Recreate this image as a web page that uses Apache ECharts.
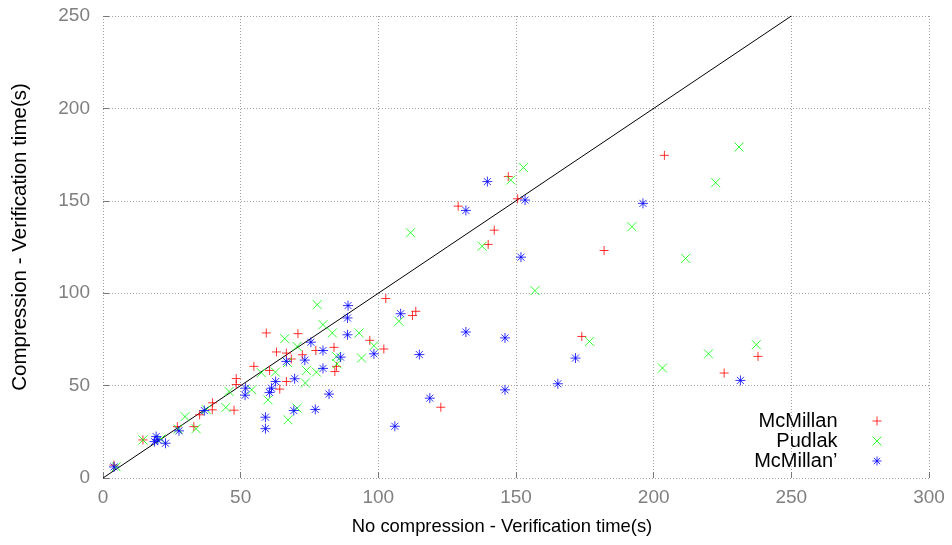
<!DOCTYPE html>
<html>
<head>
<meta charset="utf-8">
<script src="https://cdn.jsdelivr.net/npm/echarts@6/dist/echarts.min.js"></script>
<style>
  html, body { margin: 0; padding: 0; background: #fff; }
  #chart { width: 952px; height: 545px; }
</style>
</head>
<body>
<div id="chart"></div>
<script>
// data: [no compression, compression] seconds
var mcmillan = [
  [4, 7], [14.5, 20.6], [27, 27.8], [33, 27.8], [35.1, 34.2], [39.7, 36.9],
  [39.8, 40.7], [47.6, 36.7], [48.4, 53.8], [48.4, 50.6], [54.8, 60.4],
  [59.3, 78.5], [60.5, 58.2], [63, 68.2], [64.2, 48.1], [66.6, 67.6],
  [66.6, 52.2], [68.4, 64.4], [70.8, 78.1], [72.4, 66.7], [77.3, 69],
  [83.9, 70.7], [84.8, 60.4], [84.2, 57.6], [96.9, 74.5], [102, 69.8],
  [102.7, 97.1], [112.4, 87.9], [113.6, 90.2], [122.7, 38.3], [129, 147.1],
  [139.9, 126.4], [142.1, 134.1], [147.2, 163.1], [150.6, 151.1],
  [173.9, 76.6], [182, 123.1], [203.9, 174.6], [225.6, 56.8], [237.9, 65.8]
];
var pudlak = [
  [4.8, 6.1], [14.5, 20.6], [21, 21], [27.3, 26.5], [29.8, 33.2], [33.8, 26.7],
  [37.5, 37], [44.6, 38.2], [45.8, 46.8], [54, 47.7], [57.5, 57], [59.9, 42.3],
  [62.6, 57.3], [66, 75.4], [67, 62.5], [67.2, 31.5], [70.5, 71.2], [70.5, 37.8],
  [73.5, 51.4], [73.9, 58.2], [77.5, 57.3], [77.8, 93.8], [79.9, 83],
  [83.3, 78.5], [84.8, 65.8], [85, 61.8], [93, 78.5], [93.9, 64.9],
  [98.4, 71.6], [107.5, 84.8], [111.7, 132.7], [137.7, 125.4], [148.1, 161.2],
  [152.7, 168], [156.9, 101.4], [176.7, 73.9], [192.1, 136], [203.2, 59.5],
  [211.6, 118.8], [219.9, 67.2], [222.5, 159.8], [231, 179.1], [237.3, 72.1]
];
var mcmillan2 = [
  [4, 6], [19.3, 22.4], [18.7, 19.7], [19.9, 20.6], [22.7, 18.8], [27.6, 25.5],
  [36.8, 36.5], [51.8, 48.6], [51.6, 44.8], [59, 32.9], [59, 26.7],
  [61.2, 48.6], [60.5, 46.3], [62.7, 52.2], [66.6, 63.1], [69.6, 53.7],
  [69.3, 36.5], [73.3, 63.8], [75.5, 73.5], [77.1, 37.1], [79.9, 69],
  [79.9, 59.3], [82.1, 45.4], [86.3, 65.4], [88.8, 77.5], [88.8, 86.6],
  [89, 93.3], [98.4, 67.2], [106, 28], [108.1, 88.9], [114.9, 66.8],
  [118.7, 43.2], [131.8, 79], [131.8, 144.8], [139.6, 160.4], [146, 75.8],
  [146, 47.7], [151.8, 119.5], [153.3, 150.4], [165.2, 51], [171.6, 64.9],
  [196.1, 148.6], [231.5, 52.8]
];
// y = x reference line
var diagonal = [[0, 0], [250, 250]];
var seriesNames = ['McMillan', 'Pudlak', 'McMillan\u2019'];

var FONT = '"Liberation Sans", Arial, sans-serif';
var plusPath = 'path://M0,5L10,5M5,0L5,10';
var crossPath = 'path://M0,0L10,10M10,0L0,10';
var starPath = 'path://M0,5L10,5M5,0L5,10M1.5,1.5L8.5,8.5M8.5,1.5L1.5,8.5';

var myChart = echarts.init(document.getElementById('chart'), null, { renderer: 'canvas' });

function axisCommon() {
    return {
        type: 'value',
        axisLine: { show: false },
        axisTick: {
            show: true,
            inside: true,
            length: 6,
            lineStyle: { color: '#777' }
        },
        axisLabel: {
            color: '#808080',
            fontSize: 19,
            fontFamily: FONT
        },
        splitLine: {
            show: true,
            lineStyle: { color: '#a0a0a0', width: 1, type: [1, 2] }
        }
    };
}

var xAxis = axisCommon();
xAxis.min = 0;
xAxis.max = 300;
xAxis.interval = 50;
xAxis.axisLabel.margin = 10;
xAxis.name = 'No compression - Verification time(s)';
xAxis.nameLocation = 'middle';
xAxis.nameGap = 40;
xAxis.nameTextStyle = { color: '#000', fontSize: 18.4, fontFamily: FONT, padding: [0, 28, 0, 0] };

var yAxis = axisCommon();
yAxis.min = 0;
yAxis.max = 250;
yAxis.interval = 50;
yAxis.axisLabel.margin = 13;
yAxis.name = 'Compression - Verification time(s)';
yAxis.nameLocation = 'middle';
yAxis.nameGap = 72;
yAxis.nameTextStyle = { color: '#000', fontSize: 20.5, fontFamily: FONT, padding: [0, 0, 0, 20] };

// one legend per entry so the icons line up on the right
function legendFor(name, top) {
    return {
        data: [name],
        right: 65,
        top: top,
        orient: 'vertical',
        align: 'right',
        itemWidth: 9,
        itemHeight: 9,
        selectedMode: false,
        itemStyle: { borderWidth: 1 },
        textStyle: { color: '#000', fontSize: 20, fontFamily: FONT, padding: [0, 30, 0, 0] }
    };
}

function scatter(name, data, symbol, color, size) {
    return {
        name: name,
        type: 'scatter',
        data: data,
        symbol: symbol,
        symbolSize: size,
        itemStyle: { color: 'transparent', borderColor: color, borderWidth: 1 },
        emphasis: { disabled: true },
        z: 3
    };
}

var option = {
    animation: false,
    backgroundColor: '#fff',
    grid: { left: 103, right: 23, top: 16, bottom: 67 },
    xAxis: xAxis,
    yAxis: yAxis,
    legend: [
        legendFor(seriesNames[0], 406),
        legendFor(seriesNames[1], 426),
        legendFor(seriesNames[2], 446)
    ],
    series: [
        {
            type: 'line',
            data: diagonal,
            showSymbol: false,
            symbol: 'none',
            lineStyle: { color: '#000', width: 1 },
            silent: true,
            z: 2
        },
        scatter(seriesNames[0], mcmillan, plusPath, '#ff0000', 9),
        scatter(seriesNames[1], pudlak, crossPath, '#00ff00', 9),
        scatter(seriesNames[2], mcmillan2, starPath, '#0000ff', 10)
    ]
};

myChart.setOption(option);
</script>
</body>
</html>
